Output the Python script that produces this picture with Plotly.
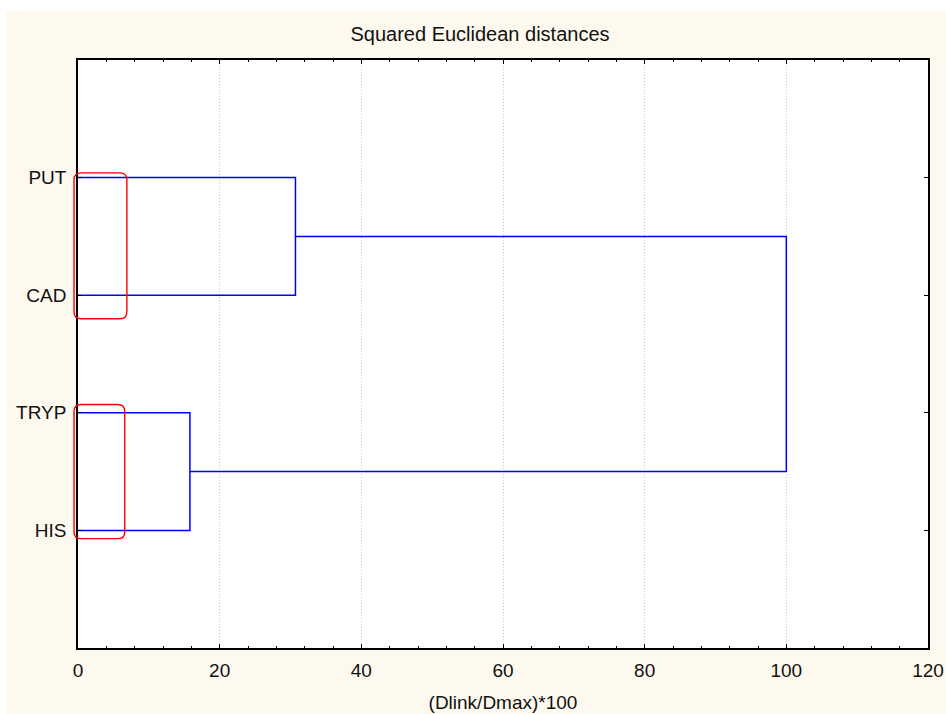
import plotly.graph_objects as go

# ---- data ----
labels = ["PUT", "CAD", "TRYP", "HIS"]           # top to bottom
label_pos = [4, 3, 2, 1]                         # y positions of leaves
# merges: (left leaf/cluster, right leaf/cluster, link distance)
merge_a = ["PUT", "TRYP", "C1"]
merge_b = ["CAD", "HIS", "C2"]
merge_dist = [30.7, 15.8, 100.0]
x_ticks = [0, 20, 40, 60, 80, 100, 120]
# highlighted groups (red rounded boxes): x span and y span in data units
box_x0 = [-0.56, -0.56]
box_x1 = [6.9, 6.6]
box_y0 = [2.80, 0.93]
box_y1 = [4.04, 2.07]

title = "Squared Euclidean distances"
xtitle = "(Dlink/Dmax)*100"

# ---- layout geometry ----
W, H = 946, 714
L, R, T, B = 78, 18, 60, 66
PW, PH = W - L - R, H - T - B
XR = (0, 120)
YR = (0, 5)
CREAM = "#FEF9EE"
FONT = "Liberation Sans, Arial, sans-serif"

# ---- build dendrogram segments ----
pos = {lab: (0.0, y) for lab, y in zip(labels, label_pos)}
xs, ys = [], []
for i, (a, b, d) in enumerate(zip(merge_a, merge_b, merge_dist)):
    xa, ya = pos[a]
    xb, yb = pos[b]
    xs += [xa, d, d, xb, None]
    ys += [ya, ya, yb, yb, None]
    pos["C%d" % (i + 1)] = (d, (ya + yb) / 2)

fig = go.Figure()
fig.add_trace(go.Scatter(x=xs, y=ys, mode="lines",
                         line=dict(color="#0000FF", width=1.5),
                         hoverinfo="skip", showlegend=False))


def px(x):
    return (x - XR[0]) / (XR[1] - XR[0])


def py(y):
    return (y - YR[0]) / (YR[1] - YR[0])


# paper edges in paper coordinates (kept exactly inside the page)
P_LEFT, P_RIGHT = -L / PW, 1 + R / PW
P_BOTTOM, P_TOP = -B / PH, 1 + T / PH

shapes = []
# white strips at the top and left of the cream background
shapes.append(dict(type="rect", xref="paper", yref="paper",
                   x0=P_LEFT, x1=(6 - L) / PW, y0=P_BOTTOM, y1=P_TOP,
                   fillcolor="white", line=dict(width=0), layer="below"))
shapes.append(dict(type="rect", xref="paper", yref="paper",
                   x0=P_LEFT, x1=P_RIGHT, y0=(H - B - 11) / PH, y1=P_TOP,
                   fillcolor="white", line=dict(width=0), layer="below"))

# red rounded boxes
rx, ry = 7 / PW, 7 / PH
for x0, x1, y0, y1 in zip(box_x0, box_x1, box_y0, box_y1):
    a, b, c, d = px(x0), px(x1), py(y0), py(y1)
    path = (f"M {a+rx},{c} L {b-rx},{c} Q {b},{c} {b},{c+ry} "
            f"L {b},{d-ry} Q {b},{d} {b-rx},{d} L {a+rx},{d} "
            f"Q {a},{d} {a},{d-ry} L {a},{c+ry} Q {a},{c} {a+rx},{c} Z")
    shapes.append(dict(type="path", xref="paper", yref="paper", path=path,
                       line=dict(color="#FF0000", width=1.4), layer="above"))

fig.update_layout(
    width=W, height=H, autosize=False,
    margin=dict(l=L, r=R, t=T, b=B, pad=0, autoexpand=False),
    paper_bgcolor=CREAM, plot_bgcolor="white",
    font=dict(family=FONT, size=19, color="#111111"),
    title=dict(text=title, x=480 / W, xref="container", xanchor="center",
               y=1 - 34 / H, yref="container", yanchor="middle",
               font=dict(size=20, color="#111111")),
    showlegend=False,
    shapes=shapes,
)
fig.update_xaxes(range=list(XR), tickvals=x_ticks, ticks="inside", ticklen=4,
                 tickcolor="black", tickwidth=1, automargin=False,
                 minor=dict(ticks="inside", ticklen=2, dtick=4, tick0=0,
                            tickcolor="black", showgrid=False),
                 showline=True, linecolor="black", linewidth=1.5, mirror="allticks",
                 showgrid=True, gridcolor="#C8C8C8", griddash="1px,2px", gridwidth=1,
                 zeroline=False, ticklabelstandoff=4,
                 title=dict(text=xtitle, standoff=16, font=dict(size=19)))
fig.update_yaxes(range=list(YR), tickvals=label_pos, ticktext=labels,
                 ticks="inside", ticklen=4, tickcolor="black", tickwidth=1,
                 automargin=False,
                 showline=True, linecolor="black", linewidth=1.5, mirror="allticks",
                 showgrid=False, zeroline=False, ticklabelstandoff=6)

fig.write_html("out.html")
